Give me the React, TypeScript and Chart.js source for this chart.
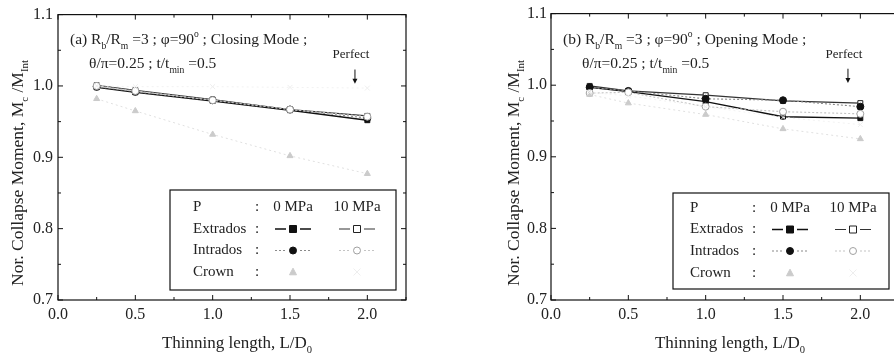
import React, { useEffect, useRef } from "react";
import { Chart, registerables } from "chart.js";

Chart.register(...registerables);

// ---------- data ----------
const xValues = [0.25, 0.5, 1.0, 1.5, 2.0];
const xMajorTicks = [0, 0.5, 1.0, 1.5, 2.0];
const xMinorTicks = [0.25, 0.75, 1.25, 1.75, 2.25];
const yMajorTicks = [0.7, 0.8, 0.9, 1.0, 1.1];
const yMinorTicks = [0.75, 0.85, 0.95, 1.05];

// (a) Closing mode
const closingExtrados0 = [0.998, 0.991, 0.979, 0.966, 0.952];
const closingExtrados10 = [1.001, 0.994, 0.981, 0.967, 0.958];
const closingIntrados0 = [0.999, 0.992, 0.98, 0.967, 0.955];
const closingIntrados10 = [1.0, 0.993, 0.98, 0.967, 0.957];
const closingCrown0 = [0.982, 0.965, 0.932, 0.902, 0.877];
const closingCrown10 = [1.0, 0.999, 0.999, 0.998, 0.997];

// (b) Opening mode
const openingExtrados0 = [0.997, 0.991, 0.977, 0.956, 0.954];
const openingExtrados10 = [0.999, 0.992, 0.986, 0.978, 0.975];
const openingIntrados0 = [0.997, 0.992, 0.981, 0.979, 0.97];
const openingIntrados10 = [0.989, 0.99, 0.97, 0.963, 0.96];
const openingCrown0 = [0.987, 0.975, 0.959, 0.939, 0.925];
const openingCrown10 = [0.99, 0.985, 0.97, 0.955, 0.945];

const legendRowLabels = ["Extrados", "Intrados", "Crown"];
const legendHeader = ["P", "0 MPa", "10 MPa"];

const FONT = '"Liberation Serif", "DejaVu Serif", serif';
const TEXT = "#222";

type Seg = { t: string; s?: "sub" | "sup" };

function segFont(size: number, s?: string) {
  const fs = s ? size * 0.62 : size;
  return `${fs}px ${FONT}`;
}
function richWidth(ctx: CanvasRenderingContext2D, segs: Seg[], size: number) {
  let w = 0;
  for (const sg of segs) {
    ctx.font = segFont(size, sg.s);
    w += ctx.measureText(sg.t).width;
  }
  return w;
}
function drawRich(
  ctx: CanvasRenderingContext2D,
  segs: Seg[],
  x: number,
  y: number,
  size: number,
  align: "left" | "center"
) {
  const w = richWidth(ctx, segs, size);
  let cx = align === "center" ? x - w / 2 : x;
  ctx.textAlign = "left";
  ctx.textBaseline = "alphabetic";
  for (const sg of segs) {
    ctx.font = segFont(size, sg.s);
    const dy = sg.s === "sub" ? size * 0.32 : sg.s === "sup" ? -size * 0.42 : 0;
    ctx.fillText(sg.t, cx, y + dy);
    cx += ctx.measureText(sg.t).width;
  }
}

function drawMarker(
  ctx: CanvasRenderingContext2D,
  style: string,
  x: number,
  y: number,
  r: number,
  fill: string,
  stroke: string
) {
  ctx.save();
  ctx.setLineDash([]);
  ctx.lineWidth = 1;
  ctx.fillStyle = fill;
  ctx.strokeStyle = stroke;
  ctx.beginPath();
  if (style === "rect") {
    ctx.rect(x - r, y - r, 2 * r, 2 * r);
  } else if (style === "circle") {
    ctx.arc(x, y, r, 0, Math.PI * 2);
  } else if (style === "triangle") {
    ctx.moveTo(x, y - r * 1.1);
    ctx.lineTo(x + r, y + r * 0.8);
    ctx.lineTo(x - r, y + r * 0.8);
    ctx.closePath();
  } else {
    ctx.moveTo(x - r, y - r);
    ctx.lineTo(x + r, y + r);
    ctx.moveTo(x + r, y - r);
    ctx.lineTo(x - r, y + r);
  }
  if (style !== "crossRot") ctx.fill();
  ctx.stroke();
  ctx.restore();
}

type SeriesStyle = {
  line: string;
  width: number;
  dash: number[];
  point: string;
  fill: string;
  stroke: string;
};

const styleExtrados0: SeriesStyle = { line: "#111", width: 1.4, dash: [], point: "rect", fill: "#111", stroke: "#111" };
const styleExtrados10: SeriesStyle = { line: "#333", width: 1.2, dash: [], point: "rect", fill: "#fff", stroke: "#222" };
const styleIntrados0: SeriesStyle = { line: "#8a8a8a", width: 1.1, dash: [2, 2], point: "circle", fill: "#111", stroke: "#111" };
const styleIntrados10: SeriesStyle = { line: "#c4c4c4", width: 1.1, dash: [2, 2], point: "circle", fill: "#fff", stroke: "#a0a0a0" };
const styleCrown0: SeriesStyle = { line: "#e0e0e0", width: 1, dash: [2, 3], point: "triangle", fill: "#cbcbcb", stroke: "#cbcbcb" };
const styleCrown10: SeriesStyle = { line: "#f2f2f2", width: 1, dash: [2, 3], point: "crossRot", fill: "#efefef", stroke: "#eeeeee" };

function makeDataset(label: string, values: number[], st: SeriesStyle) {
  return {
    label,
    data: xValues.map((x, i) => ({ x, y: values[i] })),
    borderColor: st.line,
    borderWidth: st.width,
    borderDash: st.dash,
    pointStyle: st.point,
    pointRadius: 3.5,
    pointBackgroundColor: st.fill,
    pointBorderColor: st.stroke,
    pointBorderWidth: 1,
    showLine: true,
    fill: false,
    tension: 0,
  };
}

type PanelCfg = {
  id: string;
  width: number;
  yAxisWidth: number;
  padRight: number;
  yTickPad: number;
  series: number[][];
  line1: Seg[];
  line2: Seg[];
  legend: { left: number; right: number; top: number; bottom: number; label: number; colon: number; c0: number; c10: number; rows: number[] };
  yTitleDx: number;
};

const legendStyles: [SeriesStyle, SeriesStyle | null][] = [
  [styleExtrados0, styleExtrados10],
  [styleIntrados0, styleIntrados10],
  [styleCrown0, styleCrown10],
];

function makePlugin(cfg: PanelCfg) {
  return {
    id: "deco" + cfg.id,
    afterDraw(chart: any) {
      const ctx: CanvasRenderingContext2D = chart.ctx;
      const a = chart.chartArea;
      const xs = chart.scales.x;
      const ys = chart.scales.y;
      ctx.save();
      // frame
      ctx.strokeStyle = "#111";
      ctx.lineWidth = 1.2;
      ctx.setLineDash([]);
      ctx.strokeRect(a.left, a.top, a.right - a.left, a.bottom - a.top);
      // inward ticks
      ctx.lineWidth = 1;
      const tick = (vals: number[], len: number) => {
        for (const v of vals) {
          const px = xs.getPixelForValue(v);
          if (px < a.left - 0.5 || px > a.right + 0.5) continue;
          ctx.beginPath();
          ctx.moveTo(px, a.bottom);
          ctx.lineTo(px, a.bottom - len);
          ctx.moveTo(px, a.top);
          ctx.lineTo(px, a.top + len);
          ctx.stroke();
        }
      };
      const ytick = (vals: number[], len: number) => {
        for (const v of vals) {
          const py = ys.getPixelForValue(v);
          ctx.beginPath();
          ctx.moveTo(a.left, py);
          ctx.lineTo(a.left + len, py);
          ctx.moveTo(a.right, py);
          ctx.lineTo(a.right - len, py);
          ctx.stroke();
        }
      };
      tick(xMajorTicks, 5);
      tick(xMinorTicks, 3);
      ytick(yMajorTicks, 5);
      ytick(yMinorTicks, 3);

      ctx.fillStyle = TEXT;
      // x title
      drawRich(
        ctx,
        [{ t: "Thinning length, L/D" }, { t: "0", s: "sub" }],
        (a.left + a.right) / 2 + 5,
        348,
        17,
        "center"
      );
      // y title
      ctx.save();
      ctx.translate(a.left + cfg.yTitleDx, 173);
      ctx.rotate(-Math.PI / 2);
      drawRich(
        ctx,
        [
          { t: "Nor. Collapse Moment, M" },
          { t: "c", s: "sub" },
          { t: " /M" },
          { t: "Int", s: "sub" },
        ],
        0,
        5.5,
        17.5,
        "center"
      );
      ctx.restore();

      // annotation
      drawRich(ctx, cfg.line1, a.left + 12, 44, 15.5, "left");
      drawRich(ctx, cfg.line2, a.left + 31, 68, 15.5, "left");

      // Perfect + arrow
      const ax = xs.getPixelForValue(1.92);
      ctx.font = `13px ${FONT}`;
      ctx.textAlign = "center";
      ctx.textBaseline = "middle";
      ctx.fillText("Perfect", ax - 4, 55);
      const y1 = ys.getPixelForValue(1.023);
      const y2 = ys.getPixelForValue(1.003);
      ctx.strokeStyle = "#111";
      ctx.lineWidth = 1;
      ctx.beginPath();
      ctx.moveTo(ax, y1);
      ctx.lineTo(ax, y2 - 4);
      ctx.stroke();
      ctx.beginPath();
      ctx.moveTo(ax - 2.5, y2 - 5);
      ctx.lineTo(ax + 2.5, y2 - 5);
      ctx.lineTo(ax, y2);
      ctx.closePath();
      ctx.fillStyle = "#111";
      ctx.fill();

      // legend box
      const L = cfg.legend;
      const bx = a.left + L.left;
      const bw = L.right - L.left;
      ctx.strokeStyle = "#111";
      ctx.lineWidth = 1.2;
      ctx.strokeRect(bx, L.top, bw, L.bottom - L.top);
      ctx.fillStyle = TEXT;
      ctx.font = `15px ${FONT}`;
      ctx.textBaseline = "middle";
      const rowsText = [legendHeader[0], ...legendRowLabels];
      rowsText.forEach((t, i) => {
        const ry = L.rows[i];
        ctx.textAlign = "left";
        ctx.fillText(t, a.left + L.label, ry);
        ctx.textAlign = "center";
        ctx.fillText(":", a.left + L.colon, ry);
      });
      ctx.textAlign = "center";
      ctx.fillText(legendHeader[1], a.left + L.c0, L.rows[0]);
      ctx.fillText(legendHeader[2], a.left + L.c10, L.rows[0]);
      legendStyles.forEach((pair, i) => {
        const ry = L.rows[i + 1];
        [pair[0], pair[1]].forEach((st, j) => {
          if (!st) return;
          const cx = a.left + (j === 0 ? L.c0 : L.c10);
          if (i < 2) {
            ctx.save();
            ctx.strokeStyle = st.line;
            ctx.lineWidth = st.width;
            ctx.setLineDash(st.dash);
            ctx.beginPath();
            ctx.moveTo(cx - 18, ry);
            ctx.lineTo(cx - 7, ry);
            ctx.moveTo(cx + 7, ry);
            ctx.lineTo(cx + 18, ry);
            ctx.stroke();
            ctx.restore();
          }
          drawMarker(ctx, st.point, cx, ry, 3.5, st.fill, st.stroke);
        });
      });
      ctx.restore();
    },
  };
}

const panelA: PanelCfg = {
  id: "a",
  width: 447,
  yAxisWidth: 58,
  padRight: 41,
  yTickPad: 5,
  series: [closingCrown10, closingCrown0, closingIntrados10, closingIntrados0, closingExtrados10, closingExtrados0],
  line1: [
    { t: "(a) R" }, { t: "b", s: "sub" }, { t: "/R" }, { t: "m", s: "sub" },
    { t: " =3 ; \u03c6=90" }, { t: "o", s: "sup" }, { t: " ; Closing Mode ;" },
  ],
  line2: [{ t: "\u03b8/\u03c0=0.25 ; t/t" }, { t: "min", s: "sub" }, { t: " =0.5" }],
  legend: { left: 112, right: 338, top: 190, bottom: 290, label: 135, colon: 199, c0: 235, c10: 299, rows: [207, 229, 250.5, 272] },
  yTitleDx: -41,
};

const panelB: PanelCfg = {
  id: "b",
  width: 460,
  yAxisWidth: 104,
  padRight: 8,
  yTickPad: 4,
  series: [openingCrown10, openingCrown0, openingIntrados10, openingIntrados0, openingExtrados10, openingExtrados0],
  line1: [
    { t: "(b) R" }, { t: "b", s: "sub" }, { t: "/R" }, { t: "m", s: "sub" },
    { t: " =3 ; \u03c6=90" }, { t: "o", s: "sup" }, { t: " ; Opening Mode ;" },
  ],
  line2: [{ t: "\u03b8/\u03c0=0.25 ; t/t" }, { t: "min", s: "sub" }, { t: " =0.5" }],
  legend: { left: 122, right: 338, top: 193, bottom: 289, label: 139, colon: 203, c0: 239, c10: 302, rows: [208, 229.5, 251, 273] },
  yTitleDx: -38,
};

const seriesLabels = ["Crown 10 MPa", "Crown 0 MPa", "Intrados 10 MPa", "Intrados 0 MPa", "Extrados 10 MPa", "Extrados 0 MPa"];
const seriesStyles = [styleCrown10, styleCrown0, styleIntrados10, styleIntrados0, styleExtrados10, styleExtrados0];

function Panel({ cfg }: { cfg: PanelCfg }) {
  const ref = useRef<HTMLCanvasElement | null>(null);
  useEffect(() => {
    if (!ref.current) return;
    const tickFont = { family: FONT, size: 16 };
    const chart = new Chart(ref.current, {
      type: "line",
      data: {
        datasets: cfg.series.map((vals, i) => makeDataset(seriesLabels[i], vals, seriesStyles[i])) as any,
      },
      options: {
        animation: false,
        responsive: false,
        maintainAspectRatio: false,
        layout: { padding: { left: 0, right: cfg.padRight, top: 13, bottom: 0 } },
        plugins: { legend: { display: false }, tooltip: { enabled: false }, title: { display: false } },
        scales: {
          x: {
            type: "linear",
            min: 0,
            max: 2.25,
            afterBuildTicks: (s: any) => {
              s.ticks = xMajorTicks.map((v) => ({ value: v }));
            },
            afterFit: (s: any) => {
              s.height = 60;
            },
            grid: { display: false, drawTicks: false },
            border: { display: false },
            ticks: {
              padding: 5,
              color: TEXT,
              font: tickFont,
              maxRotation: 0,
              autoSkip: false,
              callback: (v: any) => Number(v).toFixed(1),
            },
          },
          y: {
            type: "linear",
            min: 0.7,
            max: 1.1,
            afterBuildTicks: (s: any) => {
              s.ticks = yMajorTicks.map((v) => ({ value: v }));
            },
            afterFit: (s: any) => {
              s.width = cfg.yAxisWidth;
            },
            grid: { display: false, drawTicks: false },
            border: { display: false },
            ticks: {
              padding: cfg.yTickPad,
              color: TEXT,
              font: tickFont,
              autoSkip: false,
              callback: (v: any) => Number(v).toFixed(1),
            },
          },
        },
      } as any,
      plugins: [makePlugin(cfg)],
    });
    return () => chart.destroy();
  }, [cfg]);
  return <canvas ref={ref} width={cfg.width} height={360} style={{ display: "block" }} />;
}

export default function App() {
  return (
    <div style={{ position: "absolute", left: 0, top: 0, width: 894, height: 360, overflow: "hidden", background: "#fff" }}>
      <div style={{ position: "absolute", left: 0, top: 0, width: 447, height: 360 }}>
        <Panel cfg={panelA} />
      </div>
      <div style={{ position: "absolute", left: 447, top: 0, width: 460, height: 360 }}>
        <Panel cfg={panelB} />
      </div>
    </div>
  );
}
